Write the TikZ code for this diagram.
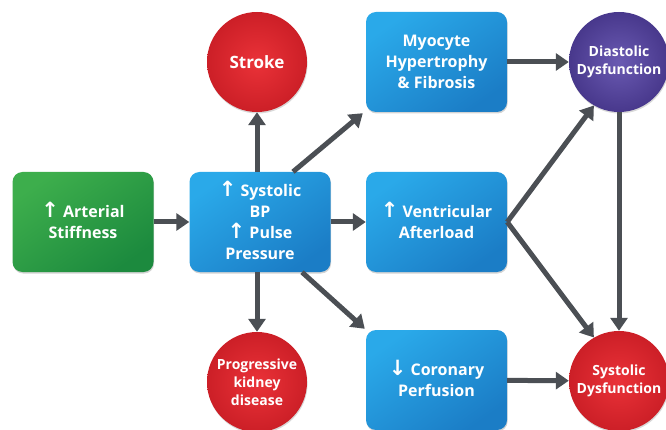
\documentclass[tikz,border=0pt]{standalone}
\usepackage{fontspec}
\setmainfont{Open Sans}
\newfontfamily\arr{DejaVu Sans}
\usetikzlibrary{arrows.meta,shadows,calc}
\definecolor{bluetop}{HTML}{2AA9E9}
\definecolor{bluebot}{HTML}{1B7DC6}
\definecolor{greentop}{HTML}{3DAE4C}
\definecolor{greenbot}{HTML}{1C8A3E}
\definecolor{redin}{HTML}{EA3238}
\definecolor{redout}{HTML}{CC1F27}
\definecolor{purpin}{HTML}{6A5AB2}
\definecolor{purpout}{HTML}{48388C}
\definecolor{arrowgray}{HTML}{4B4F54}
\newcommand{\up}{\smash{\arr\fontsize{21}{21}\selectfont ↑}}
\newcommand{\down}{\smash{\arr\fontsize{21}{21}\selectfont ↓}}
\begin{document}
\begin{tikzpicture}[x=1pt,y=-1pt,
  box/.style={rounded corners=10pt, minimum width=141pt, minimum height=100pt,
    inner sep=0pt, align=center, text=white,
    font=\bfseries\fontsize{16}{21}\selectfont,
    top color=bluetop, bottom color=bluebot, shading angle=35,
    drop shadow={shadow xshift=0.6pt, shadow yshift=-1.5pt, opacity=0.35}},
  greenbox/.style={box, top color=greentop, bottom color=greenbot, shading angle=35},
  disc/.style={circle, minimum size=100pt, inner sep=0pt, align=center, text=white,
    font=\bfseries\fontsize{14}{18}\selectfont,
    shading=radial, inner color=redin, outer color=redout,
    drop shadow={shadow xshift=0.6pt, shadow yshift=-1.5pt, opacity=0.3}},
  purpdisc/.style={disc, inner color=purpin, outer color=purpout},
  conn/.style={draw=arrowgray, line width=5pt, -{Triangle[length=13pt,width=17pt]}}]
\useasboundingbox (0,0) rectangle (666,430);

\node[greenbox] (art) at (83,222) {\up\ Arterial\\Stiffness};
\node[box] (sys) at (260,222) {\up\ Systolic\\BP\\\up\ Pulse\\Pressure};
\node[disc, font=\bfseries\fontsize{17}{20}\selectfont] (stroke) at (257,62) {Stroke};
\node[disc] (kid) at (257,382) {Progressive\\kidney\\disease};
\node[box] (myo) at (436.5,62) {Myocyte\\Hypertrophy\\\& Fibrosis};
\node[box] (vent) at (436.5,222) {\up\ Ventricular\\Afterload};
\node[box] (cor) at (436.5,380) {\down\ Coronary\\Perfusion};
\node[purpdisc] (dia) at (619,62) {Diastolic\\Dysfunction};
\node[disc] (sysd) at (619,381) {Systolic\\Dysfunction};

\draw[conn] (art) -- (sys);
\draw[conn] (stroke |- sys.north) -- (stroke);
\draw[conn] (kid |- sys.south) -- (kid);
\draw[conn] ([xshift=33pt]sys.north) -- ([shift={(-3,1)}]myo.south west);
\draw[conn] (sys) -- (vent);
\draw[conn] ([xshift=42pt]sys.south) -- ([shift={(-1,-1)}]cor.north west);
\draw[conn] (myo) -- (dia);
\draw[conn] (vent.east) -- (dia.-120);
\draw[conn] (vent.east) -- (sysd.120);
\draw[conn] (dia) -- (sysd);
\draw[conn] (cor) -- (sysd);
\end{tikzpicture}
\end{document}
